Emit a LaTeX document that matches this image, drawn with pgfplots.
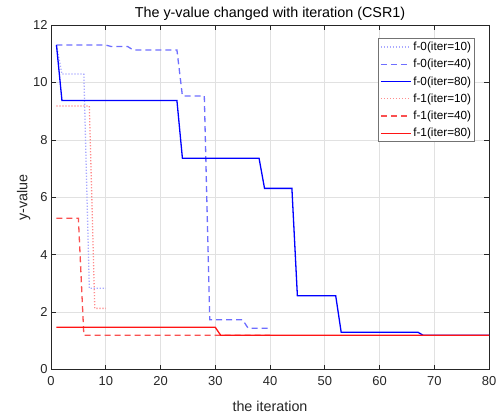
\documentclass[border=0pt]{standalone}
\usepackage{fontspec}
\setmainfont{Liberation Sans}
\usepackage{pgfplots}
\pgfplotsset{compat=1.18}
\definecolor{axgray}{RGB}{38,38,38}
\definecolor{gridgray}{RGB}{225,225,225}
\definecolor{b10}{RGB}{170,170,255}
\definecolor{b40}{RGB}{110,110,255}
\definecolor{r10}{RGB}{255,140,140}
\definecolor{r40}{RGB}{250,80,80}
\definecolor{r80}{RGB}{255,20,20}
\begin{document}
\begin{tikzpicture}
\begin{axis}[
  scale only axis,
  width=438bp, height=344.5bp,
  xmin=0, xmax=80, ymin=0, ymax=12,
  xtick={0,10,...,80}, ytick={0,2,...,12},
  /pgf/number format/assume math mode=true,
  tick label style={font=\fontsize{13}{15}\selectfont, text=axgray},
  label style={font=\fontsize{14.4}{16}\selectfont, text=axgray},
  title style={font=\fontsize{14.4}{16}\selectfont, text=black, yshift=-5bp},
  title={The y-value changed with iteration (CSR1)},
  xlabel={the iteration}, ylabel={y-value},
  ylabel style={yshift=-4bp},
  xlabel style={yshift=-9bp},
  xticklabel style={yshift=-3bp},
  grid=major, major grid style={gridgray, line width=0.6bp},
  axis line style={axgray, line width=0.7bp},
  tick style={axgray, line width=0.6bp},
  tick align=inside, major tick length=5bp,
  xtick pos=both, ytick pos=both,
  legend style={at={(1,1)}, anchor=north east, xshift=-14bp, yshift=-13bp,
    draw=black!55, line width=0.8bp, font=\fontsize{11.8}{13}\selectfont,
    row sep=3.3bp, inner sep=1.5bp},
  legend image post style={xscale=1.75},
  legend cell align=left,
]
\addplot[color=b10, line width=1.3bp, dash pattern=on 1.2bp off 1.8bp] coordinates {
 (1,11.3) (2,10.29) (6,10.29) (7,2.83) (8,2.83) (9,2.83) (10,2.83)};
\addlegendentry{f-0(iter=10)}
\addplot[color=b40, line width=1.3bp, dash pattern=on 6bp off 4bp] coordinates {
 (1,11.3) (10,11.3) (11,11.25) (14,11.25) (15,11.13) (23,11.13) (24,9.53) (28,9.53) (29,1.73) (35,1.73) (36,1.44) (40,1.44)};
\addlegendentry{f-0(iter=40)}
\addplot[color=blue, line width=1.3bp] coordinates {
 (1,11.3) (2,9.37) (23,9.37) (24,7.36) (38,7.36) (39,6.31) (44,6.31) (45,2.57) (52,2.57) (53,1.30) (67,1.30) (68,1.19) (80,1.19)};
\addlegendentry{f-0(iter=80)}
\addplot[color=r10, line width=1.3bp, dash pattern=on 1.2bp off 1.8bp] coordinates {
 (1,9.18) (7,9.18) (8,2.13) (9,2.13) (10,2.13)};
\addlegendentry{f-1(iter=10)}
\addplot[color=r40, line width=1.3bp, dash pattern=on 6bp off 4bp] coordinates {
 (1,5.27) (5,5.27) (6,1.19) (40,1.19)};
\addlegendentry{f-1(iter=40)}
\addplot[color=r80, line width=1.3bp] coordinates {
 (1,1.47) (30,1.47) (31,1.19) (80,1.19)};
\addlegendentry{f-1(iter=80)}
\end{axis}
\pgfresetboundingbox
\path[use as bounding box] ([shift={(-51bp,-44.5bp)}]current axis.south west) rectangle ([shift={(14bp,25bp)}]current axis.north east);
\end{tikzpicture}
\end{document}
